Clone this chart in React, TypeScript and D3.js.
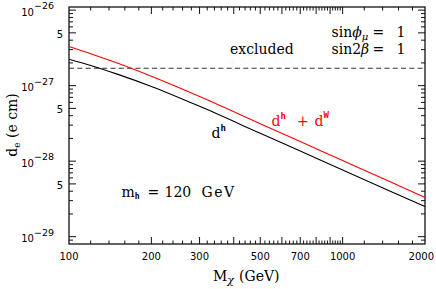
import * as d3 from "d3";

// chargino mass (GeV) and electron EDM (e cm)
const mass = [100, 120, 150, 200, 300, 500, 700, 1000, 1500, 2000];
const dHiggs = [2.24e-27, 1.85e-27, 1.42e-27, 9.75e-28, 5.32e-28, 2.34e-28, 1.36e-28, 7.64e-29, 3.98e-29, 2.51e-29];
const dHiggsW = [3.3e-27, 2.65e-27, 1.99e-27, 1.33e-27, 7.18e-28, 3.14e-28, 1.82e-28, 1.02e-28, 5.28e-29, 3.3e-29];
const edmLimit = 1.7e-27;

const massLabels = [100, 200, 300, 500, 700, 1000, 2000];
const decadeLabels = [-26, -27, -28, -29];
const fiveLabels = [5e-27, 5e-28, 5e-29];

const width = 436;
const height = 289;
const margin = { top: 7, right: 11, bottom: 45, left: 69 };

const serif = "DejaVu Serif";
const sans = "DejaVu Sans";
const mono = "DejaVu Sans Mono";

export default function App() {
  const x = d3.scaleLog().domain([100, 2000]).range([margin.left, width - margin.right]);
  const y = d3.scaleLog().domain([8e-30, 1.1e-26]).range([height - margin.bottom, margin.top]);

  const [x0, x1] = x.range();
  const [y0, y1] = y.range();

  // TopDrawer style tick marks
  const xTicks: { v: number; long: boolean }[] = [];
  for (let v = 120; v < 1000; v += 20) xTicks.push({ v, long: v % 100 === 0 });
  for (let v = 1200; v < 2000; v += 200) xTicks.push({ v, long: false });
  xTicks.push({ v: 1000, long: true });

  const yTicks: { v: number; long: boolean }[] = [];
  for (let e = -30; e <= -26; e++) {
    for (let k = 1; k <= 9; k++) {
      const v = k * Math.pow(10, e);
      if (v > 8.05e-30 && v < 1.09e-26) yTicks.push({ v, long: k === 1 || k === 5 });
    }
  }

  const line = d3
    .line<number>()
    .x((_, i) => x(mass[i]))
    .y((d) => y(d))
    .curve(d3.curveMonotoneX);

  const ink = "#111";
  const red = "#ff0000";

  return (
    <svg
      width={width}
      height={height}
      style={{ position: "absolute", left: 0, top: 0, background: "#fff" }}
    >
      {/* ticks */}
      <g stroke={ink} strokeWidth={1}>
        {xTicks.map((t, i) => {
          const len = t.long ? 7 : 3.5;
          const px = x(t.v);
          return (
            <g key={"xt" + i}>
              <line x1={px} x2={px} y1={y0} y2={y0 - len} />
              <line x1={px} x2={px} y1={y1} y2={y1 + len} />
            </g>
          );
        })}
        {yTicks.map((t, i) => {
          const len = t.long ? 7 : 4;
          const py = y(t.v);
          return (
            <g key={"yt" + i}>
              <line x1={x0} x2={x0 + len} y1={py} y2={py} />
              <line x1={x1} x2={x1 - len} y1={py} y2={py} />
            </g>
          );
        })}
      </g>

      {/* frame */}
      <rect x={x0} y={y1} width={x1 - x0} height={y0 - y1} fill="none" stroke={ink} strokeWidth={1.3} />

      {/* experimental bound */}
      <line
        x1={x0}
        x2={x1}
        y1={y(edmLimit)}
        y2={y(edmLimit)}
        stroke="#333"
        strokeWidth={1.2}
        strokeDasharray="5,3.3"
      />

      {/* curves */}
      <path d={line(dHiggs) ?? ""} fill="none" stroke="#000" strokeWidth={1.1} />
      <path d={line(dHiggsW) ?? ""} fill="none" stroke={red} strokeWidth={1.1} />

      {/* x tick labels */}
      <g fontFamily={sans} fontSize={10} fill="#000" textAnchor="middle">
        {massLabels.map((v) => {
          const last = v === massLabels[massLabels.length - 1];
          return (
            <text
              key={"xl" + v}
              x={last ? width - 2 : x(v)}
              y={260}
              textAnchor={last ? "end" : "middle"}
            >
              {v}
            </text>
          );
        })}
      </g>

      {/* y tick labels */}
      <g fontFamily={sans} fontSize={10} fill="#000" textAnchor="end">
        {decadeLabels.map((e) => (
          <text key={"yd" + e} x={54} y={y(Math.pow(10, e)) + 5.5}>
            10
            <tspan fontSize={9.5} dy={-6.5}>
              {"\u2212" + Math.abs(e)}
            </tspan>
          </text>
        ))}
        {fiveLabels.map((v, i) => (
          <text key={"yf" + i} x={63} y={y(v) + 5}>
            5
          </text>
        ))}
      </g>

      {/* axis titles */}
      <g fontFamily={serif} fontSize={14} fill="#000">
        <text x={213} y={280.5}>
          M
          <tspan fontSize={11} fontStyle="italic" dy={3}>
            χ
          </tspan>
        </text>
        <text x={239} y={280.5}>
          (GeV)
        </text>
        <text transform="translate(17,125) rotate(-90)" textAnchor="middle">
          d
          <tspan fontSize={9} dy={3}>
            e
          </tspan>
          <tspan dy={-3}> (e cm)</tspan>
        </text>
      </g>

      {/* annotations */}
      <g fontFamily={serif} fontSize={14} fill="#000">
        <text x={230} y={54}>
          excluded
        </text>
        <text x={331.5} y={36.7}>
          sin
          <tspan fontStyle="italic">ϕ</tspan>
          <tspan fontSize={10} fontStyle="italic" dy={3}>
            μ
          </tspan>
        </text>
        <text x={331.5} y={54}>
          sin2<tspan fontStyle="italic">β</tspan>
        </text>
        <text x={372.5} y={36.7}>=</text>
        <text x={372.5} y={54}>=</text>
        <text x={396.5} y={36.7}>1</text>
        <text x={396.5} y={54}>1</text>

        <text x={121.5} y={196.7}>
          m
          <tspan fontFamily={mono} fontWeight="bold" fontSize={8} dy={2}>
            h
          </tspan>
        </text>
        <text x={147.5} y={196.7}>=</text>
        <text x={164.5} y={196.7}>120</text>
        <text x={201.5} y={196.7} letterSpacing={1.5}>
          GeV
        </text>

        <text x={211.5} y={137.7}>
          d
          <tspan fontFamily={mono} fontWeight="bold" fontSize={9} dy={-7}>
            h
          </tspan>
        </text>

        <g fill={red}>
          <text x={271.5} y={126}>
            d
            <tspan fontFamily={mono} fontWeight="bold" fontSize={9} dy={-7}>
              h
            </tspan>
          </text>
          <text x={297} y={126}>+</text>
          <text x={314.5} y={126}>
            d
            <tspan fontFamily={mono} fontWeight="bold" fontSize={9} dy={-8}>
              W
            </tspan>
          </text>
        </g>
      </g>
    </svg>
  );
}
